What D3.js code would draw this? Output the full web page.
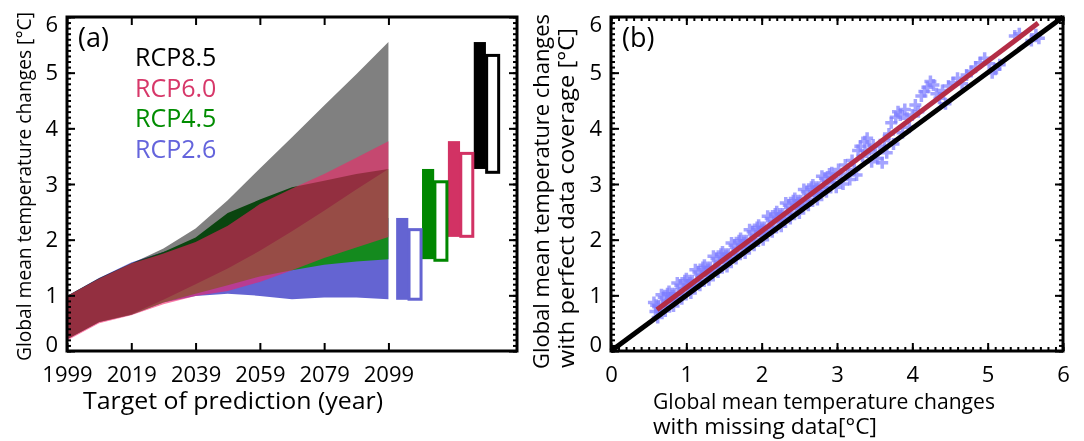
<!DOCTYPE html>
<html><head><meta charset="utf-8">
<script src="https://cdn.jsdelivr.net/npm/d3@7"></script>
<style>
body{margin:0;background:#fff;}
svg{display:block;}
text{font-family:"Open Sans",sans-serif;fill:#000;}
</style></head><body>
<svg id="chart" width="1084" height="441"></svg>
<script>
// ---------- Panel (a) data ----------
const years = [1999, 2009, 2019, 2029, 2039, 2049, 2059, 2069, 2079, 2089, 2099];
const rcp85Low  = [0.21, 0.52, 0.66, 0.92, 1.20, 1.48, 1.80, 2.15, 2.52, 2.90, 3.27];
const rcp85High = [0.99, 1.31, 1.57, 1.84, 2.20, 2.71, 3.28, 3.84, 4.41, 4.97, 5.55];
const rcp60Low  = [0.19, 0.50, 0.64, 0.84, 0.99, 1.08, 1.24, 1.45, 1.67, 1.86, 2.05];
const rcp60High = [0.99, 1.30, 1.57, 1.75, 1.96, 2.25, 2.64, 2.92, 3.18, 3.47, 3.77];
const rcp45Low  = [0.21, 0.52, 0.65, 0.87, 1.03, 1.18, 1.34, 1.45, 1.55, 1.61, 1.65];
const rcp45High = [0.99, 1.30, 1.57, 1.78, 2.04, 2.48, 2.72, 2.94, 3.06, 3.18, 3.27];
const rcp26Low  = [0.21, 0.52, 0.65, 0.87, 0.99, 1.03, 0.99, 0.93, 0.96, 0.96, 0.93];
const rcp26High = [0.99, 1.31, 1.59, 1.78, 1.96, 2.11, 2.20, 2.27, 2.33, 2.37, 2.39];

const barScenarios = ["RCP2.6", "RCP4.5", "RCP6.0", "RCP8.5"];
const perfectLow  = [0.92, 1.65, 2.05, 3.27];
const perfectHigh = [2.39, 3.27, 3.77, 5.55];
const missingLow  = [0.93, 1.63, 2.06, 3.21];
const missingHigh = [2.18, 3.04, 3.55, 5.31];

const legendLabels = ["RCP8.5", "RCP6.0", "RCP4.5", "RCP2.6"];
const xTicksA = [1999, 2019, 2039, 2059, 2079, 2099];
const yTicks = [0, 1, 2, 3, 4, 5, 6];
const xTicksB = [0, 1, 2, 3, 4, 5, 6];

// ---------- Panel (b) data ----------
const scatterX = [0.57,0.59,0.60,0.62,0.63,0.65,0.67,0.68,0.70,0.72,0.74,0.75,0.77,0.79,0.81,0.83,0.85,0.86,0.88,0.90,
0.92,0.94,0.96,0.98,1.00,1.02,1.04,1.06,1.08,1.10,1.12,1.14,1.16,1.18,1.20,1.22,1.24,1.26,1.28,1.30,
1.32,1.34,1.36,1.38,1.40,1.42,1.44,1.46,1.48,1.50,1.52,1.54,1.56,1.58,1.60,1.62,1.64,1.66,1.68,1.70,
1.72,1.74,1.76,1.78,1.80,1.82,1.84,1.86,1.88,1.90,1.92,1.94,1.96,1.98,2.00,2.02,2.04,2.06,2.08,2.10,
2.12,2.14,2.16,2.18,2.20,2.22,2.24,2.26,2.28,2.30,2.32,2.34,2.36,2.38,2.40,2.42,2.44,2.46,2.48,2.50,
2.52,2.54,2.56,2.58,2.60,2.62,2.64,2.66,2.68,2.70,2.72,2.74,2.76,2.78,2.80,2.82,2.84,2.86,2.88,2.90,
2.93,2.96,2.99,3.02,3.05,3.08,3.11,3.14,3.17,3.20,3.23,3.26,3.28,3.31,3.34,3.37,3.40,3.43,3.46,3.48,
3.51,3.54,3.57,3.60,3.63,3.66,3.69,3.72,3.75,3.78,3.81,3.84,3.87,3.90,3.93,3.96,4.00,4.04,4.08,4.12,
4.16,4.20,4.24,4.28,4.32,4.36,4.40,4.44,4.48,4.54,4.60,4.66,4.72,4.78,4.84,4.90,4.96,5.02,5.06,5.10,
5.16,5.36,5.42,5.58,5.64,5.68];
const scatterY = [0.87,0.71,0.82,0.60,0.81,0.71,1.01,0.78,0.96,0.72,0.90,1.03,1.07,0.91,1.03,0.81,1.03,0.92,1.22,1.00,
1.18,0.94,1.12,1.26,1.30,1.14,1.26,1.04,1.26,1.16,1.46,1.24,1.42,1.18,1.36,1.50,1.54,1.38,1.50,1.28,
1.50,1.40,1.70,1.48,1.66,1.42,1.60,1.74,1.78,1.62,1.74,1.52,1.74,1.64,1.94,1.72,1.90,1.66,1.84,1.98,
2.02,1.86,1.98,1.76,1.98,1.88,2.18,1.96,2.14,1.90,2.08,2.22,2.26,2.10,2.22,2.00,2.22,2.12,2.42,2.20,
2.38,2.14,2.32,2.46,2.50,2.34,2.46,2.24,2.46,2.36,2.66,2.44,2.62,2.38,2.56,2.70,2.74,2.58,2.70,2.48,
2.70,2.60,2.90,2.68,2.86,2.62,2.80,2.94,2.98,2.82,2.94,2.72,2.94,2.84,3.14,2.92,3.10,2.86,3.04,3.18,
3.20,3.02,2.94,3.26,3.10,3.00,3.34,3.18,3.08,3.42,3.26,3.16,3.60,3.68,3.50,3.76,3.82,3.62,3.40,3.70,
3.56,3.46,3.68,3.38,3.78,3.56,3.90,4.10,3.72,4.20,4.30,4.24,3.92,4.34,4.18,4.02,4.24,4.42,4.30,4.58,
4.66,4.74,4.84,4.78,4.62,4.54,4.68,4.44,4.76,4.82,4.90,4.80,4.96,5.02,5.10,5.18,5.26,5.16,5.00,5.06,
5.14,5.66,5.70,5.58,5.68,5.62];
const fitX = [0.61, 5.67];
const fitY = [0.74, 5.89];
const oneX = [0, 6];
const oneY = [0, 6];

// ---------- Drawing ----------
const svg = d3.select("#chart");
svg.append("rect").attr("width", 1084).attr("height", 441).attr("fill", "#fff");

const minorY = d3.range(0, 60.5, 1).map(d => d / 10);

function styleAxis(g, labels, fontSize) {
  g.select(".domain").remove();
  g.selectAll(".tick line").attr("stroke", "#000").attr("stroke-width", 2);
  g.selectAll(".tick text").attr("font-size", fontSize).attr("font-family", "'Open Sans', sans-serif").attr("fill", "#000");
  if (!labels) g.selectAll(".tick text").remove();
}

// ===== Panel (a) =====
const ax = d3.scaleLinear().domain([1999, 2139]).range([67, 517]);
const ay = d3.scaleLinear().domain([0, 6]).range([351, 17]);

function bandArea(lo, hi) {
  return d3.area()
    .x((d, i) => ax(years[i]))
    .y0((d, i) => ay(lo[i]))
    .y1((d, i) => ay(hi[i]))(years);
}
const pa = svg.append("g");
pa.append("path").attr("d", bandArea(rcp26Low, rcp26High)).attr("fill", "rgb(100,100,210)");
pa.append("path").attr("d", bandArea(rcp45Low, rcp45High)).attr("fill", "rgb(20,138,30)");
pa.append("path").attr("d", bandArea(rcp85Low, rcp85High)).attr("fill", "rgb(128,128,128)")
  .style("mix-blend-mode", "multiply");
pa.append("path").attr("d", bandArea(rcp60Low, rcp60High)).attr("fill", "rgb(247,31,100)")
  .attr("fill-opacity", 0.58);

// bars
const barColors = ["rgb(100,100,210)", "rgb(0,135,0)", "rgb(210,50,100)", "#000"];
const bb = d3.scaleBand().domain(barScenarios).range([ax(2101.4), ax(2133.6)]);
const bw = bb.bandwidth();
barScenarios.forEach((s, i) => {
  const x0 = bb(s);
  pa.append("rect").attr("x", x0).attr("width", bw * 0.47)
    .attr("y", ay(perfectHigh[i])).attr("height", ay(perfectLow[i]) - ay(perfectHigh[i]))
    .attr("fill", barColors[i]);
});
barScenarios.forEach((s, i) => {
  const x0 = bb(s) + bw * 0.44 + 1.5;
  const x1 = bb(s) + bw * 1.02 - 1.5;
  pa.append("rect").attr("x", x0).attr("width", x1 - x0)
    .attr("y", ay(missingHigh[i])).attr("height", ay(missingLow[i]) - ay(missingHigh[i]))
    .attr("fill", "#fff").attr("stroke", barColors[i]).attr("stroke-width", 3);
});

// axes panel (a)
styleAxis(svg.append("g").attr("transform", "translate(67,0)")
  .call(d3.axisLeft(ay).tickValues(minorY).tickSize(-4).tickFormat("")), false);
styleAxis(svg.append("g").attr("transform", "translate(517,0)")
  .call(d3.axisRight(ay).tickValues(minorY).tickSize(-4).tickFormat("")), false);
const aLeft = svg.append("g").attr("transform", "translate(67,0)")
  .call(d3.axisLeft(ay).tickValues(yTicks).tickSize(-8).tickPadding(9).tickFormat(d3.format("d")));
styleAxis(aLeft, true, 22);
styleAxis(svg.append("g").attr("transform", "translate(517,0)")
  .call(d3.axisRight(ay).tickValues(yTicks).tickSize(-8)), false);
const aBottom = svg.append("g").attr("transform", "translate(0,351)")
  .call(d3.axisBottom(ax).tickValues(xTicksA).tickSize(-8).tickPadding(15).tickFormat(d3.format("d")));
styleAxis(aBottom, true, 22);
styleAxis(svg.append("g").attr("transform", "translate(0,17)")
  .call(d3.axisTop(ax).tickValues(xTicksA).tickSize(-8)), false);
aLeft.selectAll(".tick text").filter(d => d === 0).attr("transform", "translate(0,-7)");
aLeft.selectAll(".tick text").filter(d => d === 6).attr("transform", "translate(0,7)");
svg.append("rect").attr("x", 67).attr("y", 17).attr("width", 450).attr("height", 334)
  .attr("fill", "none").attr("stroke", "#000").attr("stroke-width", 3);

// legend & labels (a)
const legendColors = ["#000", "rgb(215,55,105)", "rgb(0,140,0)", "rgb(100,100,220)"];
svg.selectAll(".leg").data(legendLabels).enter().append("text")
  .attr("x", 135).attr("y", (d, i) => 66 + i * 30.7)
  .attr("font-family", "'Liberation Sans', Arial, sans-serif").attr("font-size", 25)
  .attr("fill", (d, i) => legendColors[i]).style("fill", (d, i) => legendColors[i]).text(d => d);
svg.append("text").attr("x", 78).attr("y", 47).attr("font-size", 27).text("(a)");
svg.append("text").attr("x", 83).attr("y", 409).attr("font-size", 23)
  .attr("textLength", 300).attr("lengthAdjust", "spacingAndGlyphs").text("Target of prediction (year)");
svg.append("text").attr("transform", "translate(31,361) rotate(-90)").attr("font-size", 19.5)
  .attr("textLength", 349).attr("lengthAdjust", "spacingAndGlyphs").text("Global mean temperature changes [°C]");

// ===== Panel (b) =====
const bx = d3.scaleLinear().domain([0, 6]).range([611, 1063]);
const by = d3.scaleLinear().domain([0, 6]).range([351, 17]);
const minorX = minorY;
const pb = svg.append("g");
pb.selectAll(".pt").data(scatterX).enter().append("path")
  .attr("transform", (d, i) => `translate(${bx(d)},${by(scatterY[i])})`)
  .attr("d", "M-6,0H6M0,-6V6")
  .attr("stroke", "rgb(125,125,255)").attr("stroke-width", 3.5).attr("stroke-opacity", 0.7).attr("fill", "none");
const line = d3.line().x(d => bx(d[0])).y(d => by(d[1]));
pb.append("path").attr("d", line(oneX.map((d, i) => [d, oneY[i]])))
  .attr("stroke", "#000").attr("stroke-width", 5).attr("fill", "none");
pb.append("path").attr("d", line(fitX.map((d, i) => [d, fitY[i]])))
  .attr("stroke", "rgb(180,45,70)").attr("stroke-width", 5).attr("fill", "none");

styleAxis(svg.append("g").attr("transform", "translate(611,0)")
  .call(d3.axisLeft(by).tickValues(minorY).tickSize(-4).tickFormat("")), false);
styleAxis(svg.append("g").attr("transform", "translate(1063,0)")
  .call(d3.axisRight(by).tickValues(minorY).tickSize(-4).tickFormat("")), false);
styleAxis(svg.append("g").attr("transform", "translate(0,351)")
  .call(d3.axisBottom(bx).tickValues(minorX).tickSize(-4).tickFormat("")), false);
styleAxis(svg.append("g").attr("transform", "translate(0,17)")
  .call(d3.axisTop(bx).tickValues(minorX).tickSize(-4).tickFormat("")), false);
const bLeft = svg.append("g").attr("transform", "translate(611,0)")
  .call(d3.axisLeft(by).tickValues(yTicks).tickSize(-8).tickPadding(9).tickFormat(d3.format("d")));
styleAxis(bLeft, true, 22);
bLeft.selectAll(".tick text").filter(d => d === 0).attr("transform", "translate(0,-7)");
bLeft.selectAll(".tick text").filter(d => d === 6).attr("transform", "translate(0,7)");
styleAxis(svg.append("g").attr("transform", "translate(1063,0)")
  .call(d3.axisRight(by).tickValues(yTicks).tickSize(-8)), false);
styleAxis(svg.append("g").attr("transform", "translate(0,351)")
  .call(d3.axisBottom(bx).tickValues(xTicksB).tickSize(-8).tickPadding(15).tickFormat(d3.format("d"))), true, 22);
styleAxis(svg.append("g").attr("transform", "translate(0,17)")
  .call(d3.axisTop(bx).tickValues(xTicksB).tickSize(-8)), false);
svg.append("rect").attr("x", 611).attr("y", 17).attr("width", 452).attr("height", 334)
  .attr("fill", "none").attr("stroke", "#000").attr("stroke-width", 3);

svg.append("text").attr("x", 622).attr("y", 47).attr("font-size", 27).text("(b)");
svg.append("text").attr("x", 653).attr("y", 409).attr("font-size", 21)
  .attr("textLength", 342).attr("lengthAdjust", "spacingAndGlyphs").text("Global mean temperature changes");
svg.append("text").attr("x", 653).attr("y", 434).attr("font-size", 21)
  .attr("textLength", 224).attr("lengthAdjust", "spacingAndGlyphs").text("with missing data[°C]");
svg.append("text").attr("transform", "translate(549,369) rotate(-90)").attr("font-size", 22)
  .attr("textLength", 355).attr("lengthAdjust", "spacingAndGlyphs").text("Global mean temperature changes");
svg.append("text").attr("transform", "translate(574,368) rotate(-90)").attr("font-size", 22)
  .attr("textLength", 340).attr("lengthAdjust", "spacingAndGlyphs").text("with perfect data coverage [°C]");
</script>
</body></html>
